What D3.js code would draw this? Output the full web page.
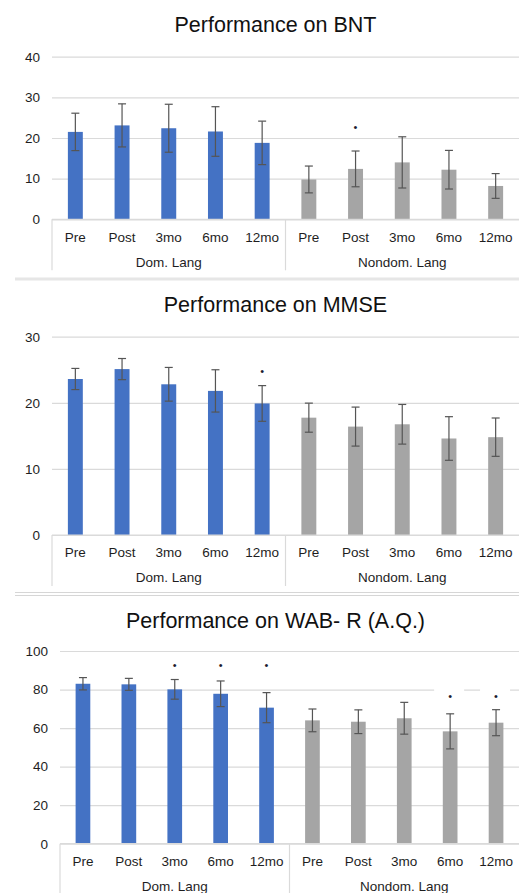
<!DOCTYPE html>
<html>
<head>
<meta charset="utf-8">
<script src="https://cdn.jsdelivr.net/npm/d3@7"></script>
<style>
  html, body { margin: 0; padding: 0; background: #fff; }
  svg { display: block; font-family: "Liberation Sans", Arial, sans-serif; }
</style>
</head>
<body>
<svg id="chart" width="519" height="893"></svg>
<script>
// Time points within each language condition
const timepoints = ["Pre", "Post", "3mo", "6mo", "12mo"];
const languages = ["Dom. Lang", "Nondom. Lang"];

// Boston Naming Test: means and error (±) per bar, Dom then Nondom
const bntMeans = [21.5, 23.1, 22.4, 21.6, 18.8, 9.8, 12.4, 14.0, 12.2, 8.2];
const bntErr   = [4.6, 5.3, 5.9, 6.1, 5.35, 3.3, 4.4, 6.3, 4.75, 3.05];
const bntSig   = [null, null, null, null, null, null, 22.7, null, null, null];
const bntTicks = [0, 10, 20, 30, 40];

// Mini-Mental State Examination
const mmseMeans = [23.6, 25.1, 22.8, 21.8, 19.9, 17.75, 16.4, 16.75, 14.6, 14.8];
const mmseErr   = [1.6, 1.6, 2.55, 3.2, 2.7, 2.2, 2.95, 3.0, 3.3, 2.9];
const mmseSig   = [null, null, null, null, 24.8, null, null, null, null, null];
const mmseTicks = [0, 10, 20, 30];

// Western Aphasia Battery-Revised, Aphasia Quotient
const wabMeans = [83.0, 82.7, 80.1, 77.8, 70.6, 64.0, 63.3, 65.1, 58.3, 62.8];
const wabErr   = [3.2, 3.1, 5.1, 6.65, 7.8, 5.9, 6.15, 8.25, 9.1, 6.75];
const wabSig   = [null, null, 92.9, 92.9, 92.9, null, null, null, 76.5, 76.5];
const wabTicks = [0, 20, 40, 60, 80, 100];

const titles = ["Performance on BNT", "Performance on MMSE", "Performance on WAB- R (A.Q.)"];

const colors = { "Dom. Lang": "#4472c4", "Nondom. Lang": "#a5a5a5" };

// Panel geometry
const panels = [
  { title: titles[0], means: bntMeans, err: bntErr, sig: bntSig, ticks: bntTicks,
    left: 52, y0: 219.3, yTop: 56.7, titleY: 32.3, boxSig: false },
  { title: titles[1], means: mmseMeans, err: mmseErr, sig: mmseSig, ticks: mmseTicks,
    left: 52, y0: 535, yTop: 336.7, titleY: 312.3, boxSig: false },
  { title: titles[2], means: wabMeans, err: wabErr, sig: wabSig, ticks: wabTicks,
    left: 60, y0: 843.7, yTop: 651, titleY: 627.7, boxSig: true }
];

const W = 519;
const svg = d3.select("#chart");
const gridColor = "#dadada";
const textColor = "#1e1e1e";

// Panel borders
svg.append("rect").attr("x", 15).attr("y", 277.5).attr("width", W - 15).attr("height", 3).attr("fill", "#e6e6e6");
svg.append("line").attr("x1", 15).attr("x2", W).attr("y1", 592.5).attr("y2", 592.5).attr("stroke", "#d6d6d6");
svg.append("line").attr("x1", 15).attr("x2", W).attr("y1", 595.5).attr("y2", 595.5).attr("stroke", "#d6d6d6");

panels.forEach(p => {
  const g = svg.append("g");
  const rows = [];
  languages.forEach((lang, li) => timepoints.forEach((t, ti) => {
    const i = li * timepoints.length + ti;
    rows.push({ key: lang + "|" + t, lang, t, mean: p.means[i], err: p.err[i], sig: p.sig[i] });
  }));

  const x = d3.scaleBand().domain(rows.map(r => r.key)).range([p.left, W]).paddingInner(0.68).paddingOuter(0.34);
  const xGroup = d3.scaleBand().domain(languages).range([p.left, W]);
  const y = d3.scaleLinear().domain([0, d3.max(p.ticks)]).range([p.y0, p.yTop]);

  // Title
  g.append("text").attr("x", 275.5).attr("y", p.titleY).attr("text-anchor", "middle")
    .attr("font-size", 21.5).attr("fill", "#111").text(p.title);

  // Gridlines and y tick labels
  const yAxis = d3.axisLeft(y).tickValues(p.ticks).tickSize(-(W - p.left)).tickPadding(12);
  const ya = g.append("g").attr("transform", `translate(${p.left},0)`).call(yAxis);
  ya.select(".domain").remove();
  ya.selectAll(".tick line").attr("stroke", gridColor).attr("stroke-width", 1.2);
  ya.selectAll(".tick text").attr("fill", textColor).attr("font-size", 13.5)
    .attr("font-family", "Liberation Sans, Arial, sans-serif");

  // Bars
  g.selectAll("rect.bar").data(rows).join("rect").attr("class", "bar")
    .attr("x", d => x(d.key)).attr("width", x.bandwidth())
    .attr("y", d => y(d.mean)).attr("height", d => y(0) - y(d.mean))
    .attr("fill", d => colors[d.lang]);

  // Error bars
  const cap = 4;
  const eb = g.selectAll("g.err").data(rows).join("g").attr("class", "err")
    .attr("stroke", "#555").attr("stroke-width", 1.2);
  eb.append("line").attr("x1", d => x(d.key) + x.bandwidth() / 2).attr("x2", d => x(d.key) + x.bandwidth() / 2)
    .attr("y1", d => y(d.mean + d.err)).attr("y2", d => y(d.mean - d.err));
  eb.append("line").attr("x1", d => x(d.key) + x.bandwidth() / 2 - cap).attr("x2", d => x(d.key) + x.bandwidth() / 2 + cap)
    .attr("y1", d => y(d.mean + d.err)).attr("y2", d => y(d.mean + d.err));
  eb.append("line").attr("x1", d => x(d.key) + x.bandwidth() / 2 - cap).attr("x2", d => x(d.key) + x.bandwidth() / 2 + cap)
    .attr("y1", d => y(d.mean - d.err)).attr("y2", d => y(d.mean - d.err));

  // Significance markers
  const sigRows = rows.filter(r => r.sig != null);
  if (p.boxSig) {
    g.selectAll("rect.sigbox").data(sigRows.filter(r => r.lang === languages[1])).join("rect")
      .attr("class", "sigbox")
      .attr("x", d => x(d.key) + x.bandwidth() / 2 - 16).attr("width", 30)
      .attr("y", d => y(d.sig) - 12).attr("height", 14).attr("fill", "#fff");
  }
  g.selectAll("text.sig").data(sigRows).join("text").attr("class", "sig")
    .attr("x", d => x(d.key) + x.bandwidth() / 2).attr("y", d => y(d.sig))
    .attr("dy", "0.35em").attr("text-anchor", "middle").attr("font-size", 11)
    .attr("fill", "#1c1c30").text("•");

  // Category axis: baseline, time point labels, language labels and separators
  g.append("line").attr("x1", p.left).attr("x2", W).attr("y1", y(0)).attr("y2", y(0))
    .attr("stroke", gridColor).attr("stroke-width", 1.2);
  g.selectAll("text.cat").data(rows).join("text").attr("class", "cat")
    .attr("x", d => x(d.key) + x.bandwidth() / 2).attr("y", y(0) + 22.2)
    .attr("text-anchor", "middle").attr("font-size", 13.5).attr("fill", textColor).text(d => d.t);
  g.selectAll("text.lang").data(languages).join("text").attr("class", "lang")
    .attr("x", d => xGroup(d) + xGroup.bandwidth() / 2).attr("y", y(0) + 47.3)
    .attr("text-anchor", "middle").attr("font-size", 13.5).attr("fill", textColor).text(d => d);
  g.selectAll("line.sep").data(languages).join("line").attr("class", "sep")
    .attr("x1", d => xGroup(d)).attr("x2", d => xGroup(d))
    .attr("y1", y(0)).attr("y2", y(0) + 51)
    .attr("stroke", gridColor).attr("stroke-width", 1.2);
});
</script>
</body>
</html>
